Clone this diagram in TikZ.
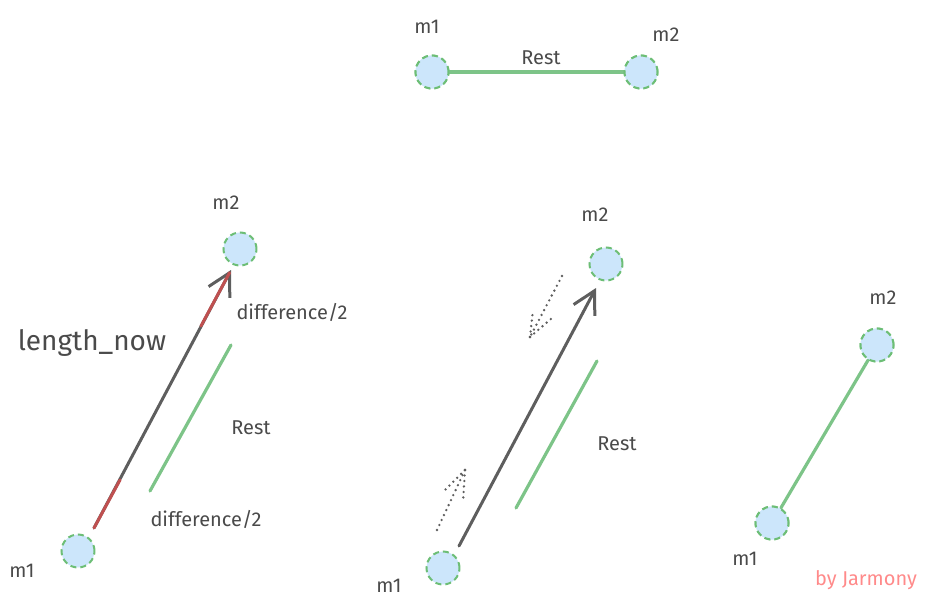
\documentclass[tikz,border=0pt]{standalone}
\usepackage{fontspec}
\setmainfont{Fira Sans}
\usetikzlibrary{arrows.meta}
\definecolor{ballfill}{HTML}{CCE6FB}
\definecolor{ballrim}{HTML}{6DBE76}
\definecolor{springgreen}{HTML}{7DC488}
\definecolor{rodgray}{HTML}{5E5E5E}
\definecolor{rodred}{HTML}{BF5050}
\definecolor{txtgray}{HTML}{4A4A4A}
\definecolor{signred}{HTML}{FF8A8A}
\tikzset{
  ball/.style={circle, minimum size=33pt, inner sep=0pt, fill=ballfill, draw=ballrim,
    line width=2pt, dash pattern=on 6pt off 4pt},
  lbl/.style={text=txtgray, font=\fontsize{20}{24}\selectfont, inner sep=0pt},
  spring/.style={draw=springgreen, line width=3.2pt, line cap=round},
  rod/.style={draw=rodgray, line width=3pt, line cap=round},
  redpart/.style={draw=rodred, line width=3pt, line cap=round},
  rodtip/.style={-{Straight Barb[length=22pt,width=24pt,line width=3pt]}},
  dots/.style={draw=rodgray, line width=2.6pt, line cap=round, dash pattern=on 0pt off 5.5pt}
}
\begin{document}
\begin{tikzpicture}[x=1pt,y=-1pt]
\useasboundingbox (0,0) rectangle (930,613);
% ---- top: at rest ----
\node[ball] (t1) at (432,72) {};
\node[ball] (t2) at (641,72) {};
\draw[spring] (t1) -- (t2);
\node[ball] at (432,72) {};
\node[ball] at (641,72) {};
\node[lbl] (trest) at (541,58) {Rest};
\node[lbl] (tm1) at (427,27) {m1};
\node[lbl] (tm2) at (666,35) {m2};
% ---- left: stretched ----
\node[ball] (a1) at (78,551) {};
\node[ball] (a2) at (240,249) {};
\coordinate (as) at (94,528);
\coordinate (ar1) at (120,480);
\coordinate (ar2) at (201,326);
\coordinate (ae) at (231,270);
\draw[rod,rodtip] (as) -- (ae);
\draw[redpart] (as) -- (ar1);
\draw[redpart,shorten >=3pt] (ar2) -- (ae);
\coordinate (ag1) at (150,491);
\coordinate (ag2) at (231,345);
\draw[spring] (ag1) -- (ag2);
\node[lbl,font=\fontsize{28}{32}\selectfont] (alen) at (92,343) {length\_now};
\node[lbl] (adiff1) at (292,312) {difference/2};
\node[lbl] (adiff2) at (206,519) {difference/2};
\node[lbl] (arest) at (251,428) {Rest};
\node[lbl] (am1) at (22,571) {m1};
\node[lbl] (am2) at (226,203) {m2};
% ---- middle: pulled together ----
\node[ball] (b1) at (443,568) {};
\node[ball] (b2) at (606,264) {};
\coordinate (bs) at (459,546);
\coordinate (be) at (596,288);
\draw[rod,rodtip] (bs) -- (be);
\coordinate (bg1) at (516,508);
\coordinate (bg2) at (597,361);
\draw[spring] (bg1) -- (bg2);
\node[lbl] (brest) at (617,444) {Rest};
\node[lbl] (bm1) at (389,586) {m1};
\node[lbl] (bm2) at (595,215) {m2};
% dotted up arrow
\coordinate (u0) at (437,530);
\coordinate (u1) at (465,470);
\coordinate (u2) at (443,492);
\coordinate (u3) at (463,502);
\draw[dots] (u0) -- (u1);
\draw[dots] (u1) -- (u2);
\draw[dots] (u1) -- (u3);
% dotted down arrow
\coordinate (d0) at (562,276);
\coordinate (d1) at (530,337);
\coordinate (d2) at (533,310);
\coordinate (d3) at (552,318);
\draw[dots] (d0) -- (d1);
\draw[dots] (d1) -- (d2);
\draw[dots] (d1) -- (d3);
% ---- right: at rest, rotated ----
\node[ball] (c1) at (772,523) {};
\node[ball] (c2) at (877,345) {};
\draw[spring] (c1) -- (c2);
\node[ball] at (772,523) {};
\node[ball] at (877,345) {};
\node[lbl] (cm1) at (745,559) {m1};
\node[lbl] (cm2) at (883,298) {m2};
\node[lbl,text=signred] (sign) at (866,580) {by Jarmony};
\end{tikzpicture}
\end{document}
